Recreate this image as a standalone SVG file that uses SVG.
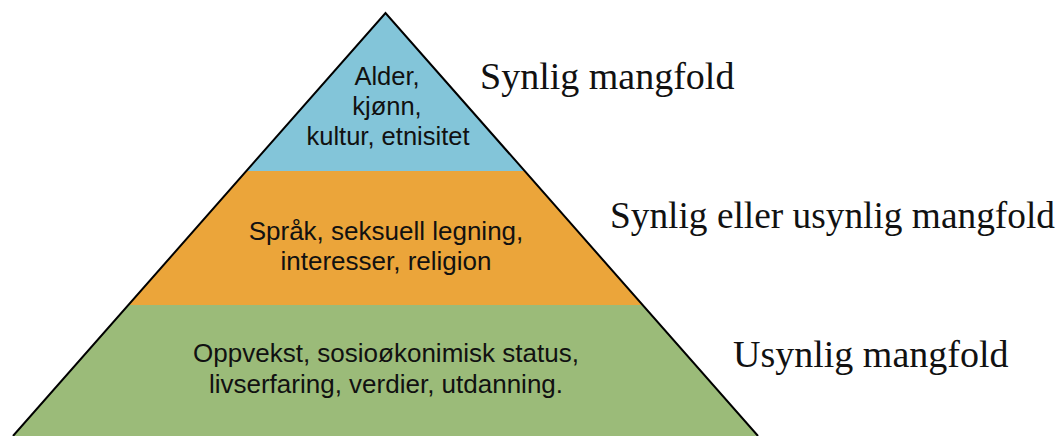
<svg xmlns="http://www.w3.org/2000/svg" width="1061" height="436" viewBox="0 0 1061 436">
  <style>
    .lbl { font-family: "Liberation Sans", Arial, Helvetica, sans-serif; font-size: 26px; fill: #111; text-anchor: middle; }
    .side { font-family: "Liberation Serif", "Times New Roman", serif; font-size: 38px; fill: #111; }
  </style>
  <rect x="0" y="0" width="1061" height="436" fill="#ffffff"/>
  <g id="layer-top">
    <polygon points="385.5,13 524.6,171 246.4,171" fill="#83C5D9"/>
    <text class="lbl" x="387" y="85" style="font-size:25.5px">Alder,</text>
    <text class="lbl" x="387" y="115" style="font-size:25.5px">kjønn,</text>
    <text class="lbl" x="388" y="145" style="font-size:25.5px">kultur, etnisitet</text>
  </g>
  <g id="layer-middle">
    <polygon points="246.4,171 524.6,171 642.6,305 128.4,305" fill="#EBA53A"/>
    <text class="lbl" x="386" y="240">Språk, seksuell legning,</text>
    <text class="lbl" x="386" y="270">interesser, religion</text>
  </g>
  <g id="layer-bottom">
    <polygon points="128.4,305 642.6,305 758,436 13,436" fill="#9BBB79"/>
    <text class="lbl" x="386" y="362">Oppvekst, sosioøkonimisk status,</text>
    <text class="lbl" x="386" y="393">livserfaring, verdier, utdanning.</text>
  </g>
  <g id="outline">
    <polyline points="13,436 385.5,13 758,436" fill="none" stroke="#000" stroke-width="2" stroke-linejoin="miter"/>
  </g>
  <g id="side-labels">
    <text class="side" x="480" y="89">Synlig mangfold</text>
    <text class="side" x="610" y="228" textLength="445" lengthAdjust="spacingAndGlyphs">Synlig eller usynlig mangfold</text>
    <text class="side" x="733" y="367">Usynlig mangfold</text>
  </g>
  <g id="connectors"></g>
</svg>
